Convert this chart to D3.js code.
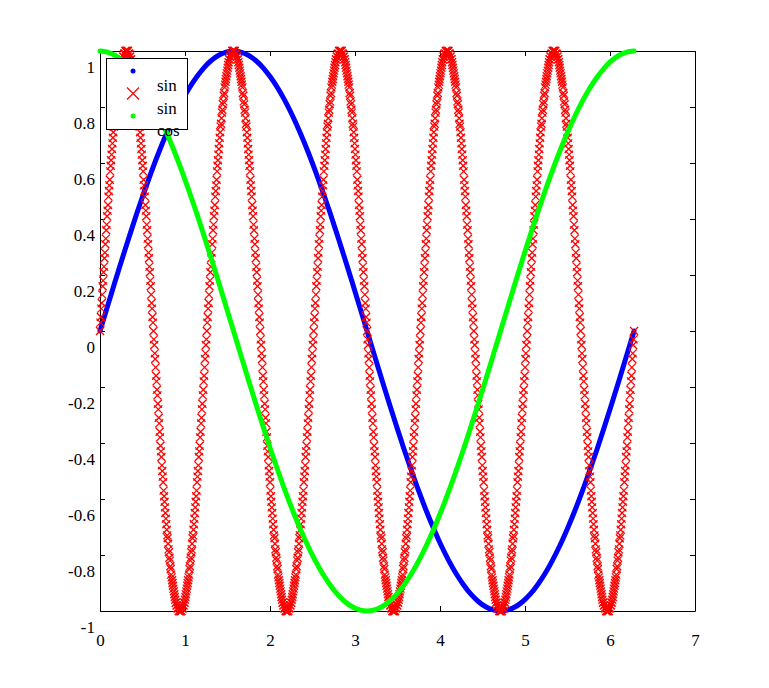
<!DOCTYPE html>
<html>
<head>
<meta charset="utf-8">
<script src="https://cdn.jsdelivr.net/npm/d3@7/dist/d3.min.js"></script>
<style>
    body { margin: 0; background: #fff; }
</style>
</head>
<body>
<div id="chart"></div>
<script>
// Axis ticks
const xTicks = [0, 1, 2, 3, 4, 5, 6, 7];
const yTicks = [-1, -0.8, -0.6, -0.4, -0.2, 0, 0.2, 0.4, 0.6, 0.8, 1];
const legendLabels = ['sin', 'sin', 'cos'];

// all series are sampled evenly from 0 to 2*pi
const sampleEnd = 6.2832;

// blue dots, 73 samples
const sinY = [0,.087,.174,.259,.342,.423,.5,.574,.643,.707,.766,.819,.866,.906,.94,.966,.985,.996,1,
    .996,.985,.966,.94,.906,.866,.819,.766,.707,.643,.574,.5,.423,.342,.259,.174,.087,0,
    -.087,-.174,-.259,-.342,-.423,-.5,-.574,-.643,-.707,-.766,-.819,-.866,-.906,-.94,-.966,-.985,-.996,-1,
    -.996,-.985,-.966,-.94,-.906,-.866,-.819,-.766,-.707,-.643,-.574,-.5,-.423,-.342,-.259,-.174,-.087,0];

// green dots, 73 samples
const cosY = [1,.996,.985,.966,.94,.906,.866,.819,.766,.707,.643,.574,.5,.423,.342,.259,.174,.087,0,
    -.087,-.174,-.259,-.342,-.423,-.5,-.574,-.643,-.707,-.766,-.819,-.866,-.906,-.94,-.966,-.985,-.996,-1,
    -.996,-.985,-.966,-.94,-.906,-.866,-.819,-.766,-.707,-.643,-.574,-.5,-.423,-.342,-.259,-.174,-.087,0,
    .087,.174,.259,.342,.423,.5,.574,.643,.707,.766,.819,.866,.906,.94,.966,.985,.996,1];

// red crosses, 1201 samples
const sin5Y = [
0,.03,.05,.08,.1,.13,.16,.18,.21,.23,.26,.28,.31,.33,.36,.38,.41,.43,.45,.48,.5,.52,.54,.57,.59,.61,.63,.65,.67,.69,.71,.73,.74,.76,.78,.79,.81,.82,.84,.85,.87,.88,.89,.9,.91,.92,.93,.94,.95,.96,.97,.97,.98,.98,.99,.99,.99,1,1,1,1,
1,1,1,.99,.99,.99,.98,.98,.97,.97,.96,.95,.94,.93,.92,.91,.9,.89,.88,.87,.85,.84,.82,.81,.79,.78,.76,.74,.73,.71,.69,.67,.65,.63,.61,.59,.57,.54,.52,.5,.48,.45,.43,.41,.38,.36,.33,.31,.28,.26,.23,.21,.18,.16,.13,.1,.08,.05,.03,0,
-.03,-.05,-.08,-.1,-.13,-.16,-.18,-.21,-.23,-.26,-.28,-.31,-.33,-.36,-.38,-.41,-.43,-.45,-.48,-.5,-.52,-.54,-.57,-.59,-.61,-.63,-.65,-.67,-.69,-.71,-.73,-.74,-.76,-.78,-.79,-.81,-.82,-.84,-.85,-.87,-.88,-.89,-.9,-.91,-.92,-.93,-.94,-.95,-.96,-.97,-.97,-.98,-.98,-.99,-.99,-.99,-1,-1,-1,-1,
-1,-1,-1,-.99,-.99,-.99,-.98,-.98,-.97,-.97,-.96,-.95,-.94,-.93,-.92,-.91,-.9,-.89,-.88,-.87,-.85,-.84,-.82,-.81,-.79,-.78,-.76,-.74,-.73,-.71,-.69,-.67,-.65,-.63,-.61,-.59,-.57,-.54,-.52,-.5,-.48,-.45,-.43,-.41,-.38,-.36,-.33,-.31,-.28,-.26,-.23,-.21,-.18,-.16,-.13,-.1,-.08,-.05,-.03,
0,.03,.05,.08,.1,.13,.16,.18,.21,.23,.26,.28,.31,.33,.36,.38,.41,.43,.45,.48,.5,.52,.54,.57,.59,.61,.63,.65,.67,.69,.71,.73,.74,.76,.78,.79,.81,.82,.84,.85,.87,.88,.89,.9,.91,.92,.93,.94,.95,.96,.97,.97,.98,.98,.99,.99,.99,1,1,1,1,
1,1,1,.99,.99,.99,.98,.98,.97,.97,.96,.95,.94,.93,.92,.91,.9,.89,.88,.87,.85,.84,.82,.81,.79,.78,.76,.74,.73,.71,.69,.67,.65,.63,.61,.59,.57,.54,.52,.5,.48,.45,.43,.41,.38,.36,.33,.31,.28,.26,.23,.21,.18,.16,.13,.1,.08,.05,.03,0,
-.03,-.05,-.08,-.1,-.13,-.16,-.18,-.21,-.23,-.26,-.28,-.31,-.33,-.36,-.38,-.41,-.43,-.45,-.48,-.5,-.52,-.54,-.57,-.59,-.61,-.63,-.65,-.67,-.69,-.71,-.73,-.74,-.76,-.78,-.79,-.81,-.82,-.84,-.85,-.87,-.88,-.89,-.9,-.91,-.92,-.93,-.94,-.95,-.96,-.97,-.97,-.98,-.98,-.99,-.99,-.99,-1,-1,-1,-1,
-1,-1,-1,-.99,-.99,-.99,-.98,-.98,-.97,-.97,-.96,-.95,-.94,-.93,-.92,-.91,-.9,-.89,-.88,-.87,-.85,-.84,-.82,-.81,-.79,-.78,-.76,-.74,-.73,-.71,-.69,-.67,-.65,-.63,-.61,-.59,-.57,-.54,-.52,-.5,-.48,-.45,-.43,-.41,-.38,-.36,-.33,-.31,-.28,-.26,-.23,-.21,-.18,-.16,-.13,-.1,-.08,-.05,-.03,
0,.03,.05,.08,.1,.13,.16,.18,.21,.23,.26,.28,.31,.33,.36,.38,.41,.43,.45,.48,.5,.52,.54,.57,.59,.61,.63,.65,.67,.69,.71,.73,.74,.76,.78,.79,.81,.82,.84,.85,.87,.88,.89,.9,.91,.92,.93,.94,.95,.96,.97,.97,.98,.98,.99,.99,.99,1,1,1,1,
1,1,1,.99,.99,.99,.98,.98,.97,.97,.96,.95,.94,.93,.92,.91,.9,.89,.88,.87,.85,.84,.82,.81,.79,.78,.76,.74,.73,.71,.69,.67,.65,.63,.61,.59,.57,.54,.52,.5,.48,.45,.43,.41,.38,.36,.33,.31,.28,.26,.23,.21,.18,.16,.13,.1,.08,.05,.03,0,
-.03,-.05,-.08,-.1,-.13,-.16,-.18,-.21,-.23,-.26,-.28,-.31,-.33,-.36,-.38,-.41,-.43,-.45,-.48,-.5,-.52,-.54,-.57,-.59,-.61,-.63,-.65,-.67,-.69,-.71,-.73,-.74,-.76,-.78,-.79,-.81,-.82,-.84,-.85,-.87,-.88,-.89,-.9,-.91,-.92,-.93,-.94,-.95,-.96,-.97,-.97,-.98,-.98,-.99,-.99,-.99,-1,-1,-1,-1,
-1,-1,-1,-.99,-.99,-.99,-.98,-.98,-.97,-.97,-.96,-.95,-.94,-.93,-.92,-.91,-.9,-.89,-.88,-.87,-.85,-.84,-.82,-.81,-.79,-.78,-.76,-.74,-.73,-.71,-.69,-.67,-.65,-.63,-.61,-.59,-.57,-.54,-.52,-.5,-.48,-.45,-.43,-.41,-.38,-.36,-.33,-.31,-.28,-.26,-.23,-.21,-.18,-.16,-.13,-.1,-.08,-.05,-.03,
0,.03,.05,.08,.1,.13,.16,.18,.21,.23,.26,.28,.31,.33,.36,.38,.41,.43,.45,.48,.5,.52,.54,.57,.59,.61,.63,.65,.67,.69,.71,.73,.74,.76,.78,.79,.81,.82,.84,.85,.87,.88,.89,.9,.91,.92,.93,.94,.95,.96,.97,.97,.98,.98,.99,.99,.99,1,1,1,1,
1,1,1,.99,.99,.99,.98,.98,.97,.97,.96,.95,.94,.93,.92,.91,.9,.89,.88,.87,.85,.84,.82,.81,.79,.78,.76,.74,.73,.71,.69,.67,.65,.63,.61,.59,.57,.54,.52,.5,.48,.45,.43,.41,.38,.36,.33,.31,.28,.26,.23,.21,.18,.16,.13,.1,.08,.05,.03,0,
-.03,-.05,-.08,-.1,-.13,-.16,-.18,-.21,-.23,-.26,-.28,-.31,-.33,-.36,-.38,-.41,-.43,-.45,-.48,-.5,-.52,-.54,-.57,-.59,-.61,-.63,-.65,-.67,-.69,-.71,-.73,-.74,-.76,-.78,-.79,-.81,-.82,-.84,-.85,-.87,-.88,-.89,-.9,-.91,-.92,-.93,-.94,-.95,-.96,-.97,-.97,-.98,-.98,-.99,-.99,-.99,-1,-1,-1,-1,
-1,-1,-1,-.99,-.99,-.99,-.98,-.98,-.97,-.97,-.96,-.95,-.94,-.93,-.92,-.91,-.9,-.89,-.88,-.87,-.85,-.84,-.82,-.81,-.79,-.78,-.76,-.74,-.73,-.71,-.69,-.67,-.65,-.63,-.61,-.59,-.57,-.54,-.52,-.5,-.48,-.45,-.43,-.41,-.38,-.36,-.33,-.31,-.28,-.26,-.23,-.21,-.18,-.16,-.13,-.1,-.08,-.05,-.03,
0,.03,.05,.08,.1,.13,.16,.18,.21,.23,.26,.28,.31,.33,.36,.38,.41,.43,.45,.48,.5,.52,.54,.57,.59,.61,.63,.65,.67,.69,.71,.73,.74,.76,.78,.79,.81,.82,.84,.85,.87,.88,.89,.9,.91,.92,.93,.94,.95,.96,.97,.97,.98,.98,.99,.99,.99,1,1,1,1,
1,1,1,.99,.99,.99,.98,.98,.97,.97,.96,.95,.94,.93,.92,.91,.9,.89,.88,.87,.85,.84,.82,.81,.79,.78,.76,.74,.73,.71,.69,.67,.65,.63,.61,.59,.57,.54,.52,.5,.48,.45,.43,.41,.38,.36,.33,.31,.28,.26,.23,.21,.18,.16,.13,.1,.08,.05,.03,0,
-.03,-.05,-.08,-.1,-.13,-.16,-.18,-.21,-.23,-.26,-.28,-.31,-.33,-.36,-.38,-.41,-.43,-.45,-.48,-.5,-.52,-.54,-.57,-.59,-.61,-.63,-.65,-.67,-.69,-.71,-.73,-.74,-.76,-.78,-.79,-.81,-.82,-.84,-.85,-.87,-.88,-.89,-.9,-.91,-.92,-.93,-.94,-.95,-.96,-.97,-.97,-.98,-.98,-.99,-.99,-.99,-1,-1,-1,-1,
-1,-1,-1,-.99,-.99,-.99,-.98,-.98,-.97,-.97,-.96,-.95,-.94,-.93,-.92,-.91,-.9,-.89,-.88,-.87,-.85,-.84,-.82,-.81,-.79,-.78,-.76,-.74,-.73,-.71,-.69,-.67,-.65,-.63,-.61,-.59,-.57,-.54,-.52,-.5,-.48,-.45,-.43,-.41,-.38,-.36,-.33,-.31,-.28,-.26,-.23,-.21,-.18,-.16,-.13,-.1,-.08,-.05,-.03,
0];

const fontFamily = "'Liberation Serif', 'Times New Roman', serif";
const fontSize = '17px';

function createChart() {
    const width = 769;
    const height = 688;
    const margin = { top: 51, right: 74, bottom: 77, left: 100 };

    const svg = d3.select('#chart').append('svg')
        .attr('width', width)
        .attr('height', height);

    const x = d3.scaleLinear().domain([0, 7]).range([margin.left, width - margin.right]);
    const y = d3.scaleLinear().domain([-1, 1]).range([height - margin.bottom, margin.top]);

    // sample index -> x value
    const coarseX = d3.scaleLinear().domain([0, sinY.length - 1]).range([0, sampleEnd]);
    const fineX = d3.scaleLinear().domain([0, sin5Y.length - 1]).range([0, sampleEnd]);

    const styleAxis = g => {
        g.selectAll('path, line').attr('stroke', '#000');
        g.selectAll('text')
            .attr('fill', '#000')
            .style('font-family', fontFamily)
            .style('font-size', fontSize);
    };

    // axes, ticks point inward
    svg.append('g')
        .attr('transform', `translate(0,${y(-1)})`)
        .call(d3.axisBottom(x).tickValues(xTicks).tickSize(-5).tickSizeOuter(0).tickPadding(23).tickFormat(d3.format('d')))
        .call(styleAxis);

    svg.append('g')
        .attr('transform', `translate(0,${y(1)})`)
        .call(d3.axisTop(x).tickValues(xTicks).tickSize(-5).tickSizeOuter(0).tickFormat(''))
        .call(styleAxis);

    svg.append('g')
        .attr('transform', `translate(${x(0)},0)`)
        .call(d3.axisLeft(y).tickValues(yTicks).tickSize(-5).tickSizeOuter(0).tickPadding(5)
            .tickFormat(d => String(Math.round(d * 10) / 10)))
        .call(styleAxis)
        .selectAll('text').attr('dy', '1.26em');

    svg.append('g')
        .attr('transform', `translate(${x(7)},0)`)
        .call(d3.axisRight(y).tickValues(yTicks).tickSize(-5).tickSizeOuter(0).tickFormat(''))
        .call(styleAxis);

    // blue dots (dense, drawn as a thick line)
    const line = d3.line()
        .x((d, i) => x(coarseX(i)))
        .y(d => y(d))
        .curve(d3.curveCatmullRom);

    svg.append('path')
        .datum(sinY)
        .attr('d', line)
        .attr('fill', 'none')
        .attr('stroke', '#0000ff')
        .attr('stroke-width', 5)
        .attr('stroke-linecap', 'round');

    // red crosses
    const cross = 'M-4,-4L4,4M-4,4L4,-4';
    svg.append('g')
        .selectAll('path')
        .data(sin5Y)
        .join('path')
        .attr('d', cross)
        .attr('transform', (d, i) => `translate(${x(fineX(i))},${y(d)})`)
        .attr('fill', 'none')
        .attr('stroke', '#ff0000')
        .attr('stroke-width', 1.3);

    // green dots
    svg.append('path')
        .datum(cosY)
        .attr('d', line)
        .attr('fill', 'none')
        .attr('stroke', '#00ff00')
        .attr('stroke-width', 5)
        .attr('stroke-linecap', 'round');

    // legend (labels sit one step lower than their markers, as in the original)
    const legend = svg.append('g').attr('transform', 'translate(106,58)');
    legend.append('rect')
        .attr('x', 0.5).attr('y', 0.5)
        .attr('width', 81).attr('height', 71)
        .attr('fill', '#fff')
        .attr('stroke', '#000');

    const rowY = i => 13 + i * 22.5;
    legend.append('circle').attr('cx', 27).attr('cy', rowY(0)).attr('r', 2.5).attr('fill', '#0000ff');
    legend.append('path').attr('d', 'M-6,-6L6,6M-6,6L6,-6')
        .attr('transform', `translate(27,${rowY(1)})`)
        .attr('stroke', '#ff0000').attr('stroke-width', 1.2).attr('fill', 'none');
    legend.append('circle').attr('cx', 27).attr('cy', rowY(2)).attr('r', 2.5).attr('fill', '#00ff00');

    legend.selectAll('text.label')
        .data(legendLabels)
        .join('text')
        .attr('class', 'label')
        .attr('x', 51)
        .attr('y', (d, i) => rowY(i) + 20)
        .attr('fill', '#000')
        .style('font-family', fontFamily)
        .style('font-size', fontSize)
        .text(d => d);
}

document.addEventListener('DOMContentLoaded', createChart);
</script>
</body>
</html>
